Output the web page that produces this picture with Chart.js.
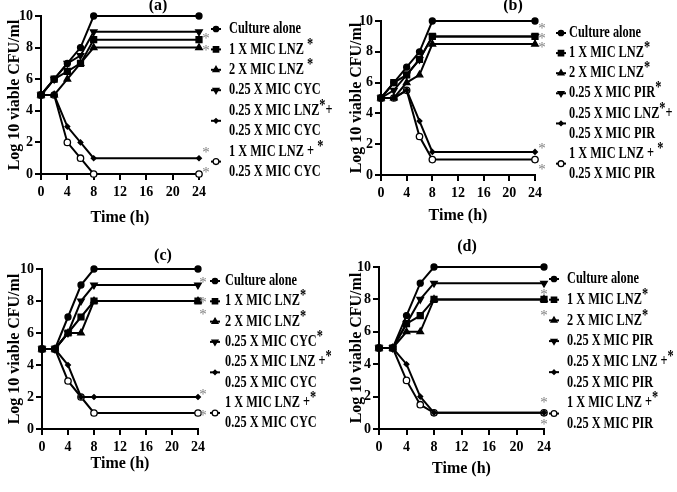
<!DOCTYPE html>
<html><head><meta charset="utf-8">
<script src="https://cdn.jsdelivr.net/npm/chart.js@4/dist/chart.umd.min.js"></script>
<style>
html,body{margin:0;padding:0;background:#fff;}
#wrap{position:relative;width:677px;height:492px;overflow:hidden;background:#fff;}
canvas{position:absolute;}
</style></head><body>
<div id="wrap">
<canvas id="ca" width="340" height="230" style="left:0;top:0"></canvas>
<canvas id="cb" width="337" height="230" style="left:340px;top:0"></canvas>
<canvas id="cc" width="340" height="262" style="left:0;top:230px"></canvas>
<canvas id="cd" width="337" height="262" style="left:340px;top:230px"></canvas>
</div>
<script>
// ---- data ----
const times = [0, 2, 4, 6, 8, 24];
const xTicks = [0, 4, 8, 12, 16, 20, 24];
const yTicks = [0, 2, 4, 6, 8, 10];
const panelTitles = ['(a)', '(b)', '(c)', '(d)'];

// panel (a): CYC
const a_culture = [5, 6, 7, 8, 10, 10];
const a_lnz1    = [5, 6, 6.5, 7, 8.5, 8.5];
const a_lnz2    = [5, 5, 6, 7, 8, 8];
const a_drug    = [5, 6, 7, 7.5, 9, 9];
const a_combo1  = [5, 5, 3, 2, 1, 1];
const a_combo2  = [5, 5, 2, 1, 0, 0];
const a_labels = [['Culture alone'], ['1 X MIC LNZ *'], ['2 X MIC LNZ *'], ['0.25 X MIC CYC'],
                  ['0.25 X MIC LNZ*+', '0.25 X MIC CYC'], ['1 X MIC LNZ + *', '0.25 X MIC CYC']];

// panel (b): PIR
const b_culture = [5, 6, 7, 8, 10, 10];
const b_lnz1    = [5, 6, 6.5, 7.5, 9, 9];
const b_lnz2    = [5, 5, 6, 6.5, 8.5, 8.5];
const b_drug    = [5, 5.5, 6.5, 7.5, 9, 9];
const b_combo1  = [5, 5, 5.5, 3.5, 1.5, 1.5];
const b_combo2  = [5, 5, 5.5, 2.5, 1, 1];
const b_labels = [['Culture alone'], ['1 X MIC LNZ*'], ['2 X MIC LNZ*'], ['0.25 X MIC PIR*'],
                  ['0.25 X MIC LNZ*+', '0.25 X MIC PIR'], ['1 X MIC LNZ + *', '0.25 X MIC PIR']];

// panel (c): CYC
const c_culture = [5, 5, 7, 9, 10, 10];
const c_lnz1    = [5, 5, 6, 7, 8, 8];
const c_lnz2    = [5, 5, 6, 6, 8, 8];
const c_drug    = [5, 5, 6, 8, 9, 9];
const c_combo1  = [5, 5, 4, 2, 2, 2];
const c_combo2  = [5, 5, 3, 2, 1, 1];
const c_labels = [['Culture alone'], ['1 X MIC LNZ*'], ['2 X MIC LNZ*'], ['0.25 X MIC CYC*'],
                  ['0.25 X MIC LNZ +*', '0.25 X MIC CYC'], ['1 X MIC LNZ +*', '0.25 X MIC CYC']];

// panel (d): PIR
const d_culture = [5, 5, 7, 9, 10, 10];
const d_lnz1    = [5, 5, 6.5, 7, 8, 8];
const d_lnz2    = [5, 5, 6, 6, 8, 8];
const d_drug    = [5, 5, 6.5, 8, 9, 9];
const d_combo1  = [5, 5, 4, 2, 1, 1];
const d_combo2  = [5, 5, 3, 1.5, 1, 1];
const d_labels = [['Culture alone'], ['1 X MIC LNZ*'], ['2 X MIC LNZ*'], ['0.25 X MIC PIR'],
                  ['0.25 X MIC LNZ +*', '0.25 X MIC PIR'], ['1 X MIC LNZ +*', '0.25 X MIC PIR']];

// significance asterisks next to line ends: [time, log value]
const a_stars = [[24, 8.73], [24, 7.97], [24, 1.52], [24, 0.25]];
const b_stars = [[24, 9.67], [24, 9.03], [24, 8.44], [24, 1.88], [24, 0.52]];
const c_stars = [[24, 9.31], [24, 8.06], [24, 7.31], [24, 2.31], [24, 1.0]];
const d_stars = [[24, 8.46], [24, 7.16], [24, 1.79], [24, 0.43]];

// ---- styles ----
const SERIF = '"Liberation Serif", "Times New Roman", serif';
const markerStyles = [
  {pointStyle: 'circle', radius: 3, rotation: 0, bg: '#000'},
  {pointStyle: 'rect', radius: 4.2, rotation: 0, bg: '#000'},
  {pointStyle: 'triangle', radius: 3.8, rotation: 0, bg: '#000'},
  {pointStyle: 'triangle', radius: 3.8, rotation: 180, bg: '#000'},
  {pointStyle: 'rectRot', radius: 2.4, rotation: 0, bg: '#000'},
  {pointStyle: 'circle', radius: 3.2, rotation: 0, bg: '#fff'}
];

const panelDecor = {
  id: 'panelDecor',
  afterDraw(chart, args, o) {
    const ctx = chart.ctx, xs = chart.scales.x, ys = chart.scales.y;
    ctx.save();
    // title
    ctx.fillStyle = '#000';
    ctx.font = 'bold 16px ' + SERIF;
    ctx.textAlign = 'center';
    ctx.textBaseline = 'middle';
    ctx.fillText(o.title, o.titleX, o.titleY);
    // grey asterisks
    ctx.fillStyle = '#808080';
    ctx.font = '15px ' + SERIF;
    ctx.textBaseline = 'alphabetic';
    o.stars.forEach(s => {
      ctx.fillText('*', xs.getPixelForValue(s[0]) + o.starDx, ys.getPixelForValue(s[1]) + 7);
    });
    // legend
    let line = 0;
    o.labels.forEach((lines, i) => {
      const yMid = o.legY + (line + (lines.length - 1) / 2) * o.legStep;
      const m = markerStyles[i];
      ctx.strokeStyle = '#000';
      ctx.lineWidth = 2;
      ctx.beginPath();
      ctx.moveTo(o.legMx - 5, yMid);
      ctx.lineTo(o.legMx + 5, yMid);
      ctx.stroke();
      ctx.fillStyle = m.bg;
      ctx.lineWidth = 1.3;
      Chart.helpers.drawPoint(ctx, {pointStyle: m.pointStyle, rotation: m.rotation, radius: m.radius * 0.9, borderWidth: 1.3}, o.legMx, yMid);
      lines.forEach((t, k) => {
        const y = o.legY + (line + k) * o.legStep;
        ctx.save();
        ctx.translate(o.legTx, y);
        ctx.scale(0.77, 1);
        ctx.fillStyle = '#000';
        ctx.font = 'bold 16px ' + SERIF;
        ctx.textAlign = 'left';
        ctx.textBaseline = 'middle';
        let x = 0;
        const parts = t.split('*');
        parts.forEach((p, pi) => {
          ctx.fillText(p, x, 0);
          x += ctx.measureText(p).width;
          if (pi < parts.length - 1) {
            ctx.fillText('*', x, -5);
            x += ctx.measureText('*').width;
          }
        });
        ctx.restore();
      });
      line += lines.length;
    });
    ctx.restore();
  }
};

function makeChart(id, series, p) {
  const datasets = series.map((vals, i) => {
    const m = markerStyles[i];
    return {
      data: times.map((t, j) => ({x: t, y: vals[j]})),
      borderColor: '#000', borderWidth: 2,
      pointStyle: m.pointStyle, pointRotation: m.rotation, pointRadius: m.radius,
      pointBackgroundColor: m.bg, pointBorderColor: '#000', pointBorderWidth: 1.3,
      tension: 0, clip: false, fill: false
    };
  });
  const tickFont = {family: SERIF, size: 14, weight: 'bold'};
  new Chart(document.getElementById(id), {
    type: 'line',
    data: {datasets},
    plugins: [panelDecor],
    options: {
      responsive: false, animation: false, devicePixelRatio: 1,
      layout: {padding: {left: 0, top: p.padTop, right: p.padRight, bottom: 0}},
      plugins: {legend: {display: false}, tooltip: {enabled: false}, panelDecor: p.decor},
      scales: {
        x: {
          type: 'linear', min: 0, max: 24,
          afterBuildTicks: s => { s.ticks = xTicks.map(v => ({value: v})); },
          afterFit: s => { s.height = p.xH; },
          grid: {drawOnChartArea: false, drawTicks: true, tickLength: 6, color: '#000', lineWidth: 2},
          border: {color: '#000', width: 2},
          ticks: {color: '#000', font: tickFont, padding: 4, maxRotation: 0, autoSkip: false},
          title: {display: true, text: 'Time (h)', color: '#000',
                  font: {family: SERIF, size: 16, weight: 'bold'}, padding: {top: 0, bottom: p.xTitlePad}}
        },
        y: {
          min: 0, max: 10,
          afterBuildTicks: s => { s.ticks = yTicks.map(v => ({value: v})); },
          afterFit: s => { s.width = p.yW; },
          grid: {drawOnChartArea: false, drawTicks: true, tickLength: 6, color: '#000', lineWidth: 2},
          border: {color: '#000', width: 2},
          ticks: {color: '#000', font: tickFont, padding: 2},
          title: {display: true, text: 'Log 10 viable CFU/ml', color: '#000',
                  font: {family: SERIF, size: 16, weight: 'bold'}, padding: {top: p.yTitlePad, bottom: 0}}
        }
      }
    }
  });
}

makeChart('ca', [a_culture, a_lnz1, a_lnz2, a_drug, a_combo1, a_combo2], {
  padTop: 16, padRight: 141, xH: 56, yW: 41, xTitlePad: 3, yTitlePad: 5,
  decor: {title: panelTitles[0], titleX: 158, titleY: 6, stars: a_stars, starDx: 7,
          labels: a_labels, legY: 29, legStep: 20.4, legMx: 216, legTx: 229}
});
makeChart('cb', [b_culture, b_lnz1, b_lnz2, b_drug, b_combo1, b_combo2], {
  padTop: 21, padRight: 142, xH: 55, yW: 41, xTitlePad: 5, yTitlePad: 7,
  decor: {title: panelTitles[1], titleX: 173, titleY: 6, stars: b_stars, starDx: 7,
          labels: b_labels, legY: 33, legStep: 20.1, legMx: 221, legTx: 229}
});
makeChart('cc', [c_culture, c_lnz1, c_lnz2, c_drug, c_combo1, c_combo2], {
  padTop: 39, padRight: 142, xH: 63, yW: 42, xTitlePad: 19, yTitlePad: 5,
  decor: {title: panelTitles[2], titleX: 163, titleY: 26, stars: c_stars, starDx: 5,
          labels: c_labels, legY: 51, legStep: 20.3, legMx: 215, legTx: 225}
});
makeChart('cd', [d_culture, d_lnz1, d_lnz2, d_drug, d_combo1, d_combo2], {
  padTop: 37, padRight: 133, xH: 63, yW: 39, xTitlePad: 14, yTitlePad: 7,
  decor: {title: panelTitles[3], titleX: 127, titleY: 17, stars: d_stars, starDx: 0,
          labels: d_labels, legY: 49, legStep: 20.7, legMx: 214, legTx: 227}
});
</script>
</body></html>
